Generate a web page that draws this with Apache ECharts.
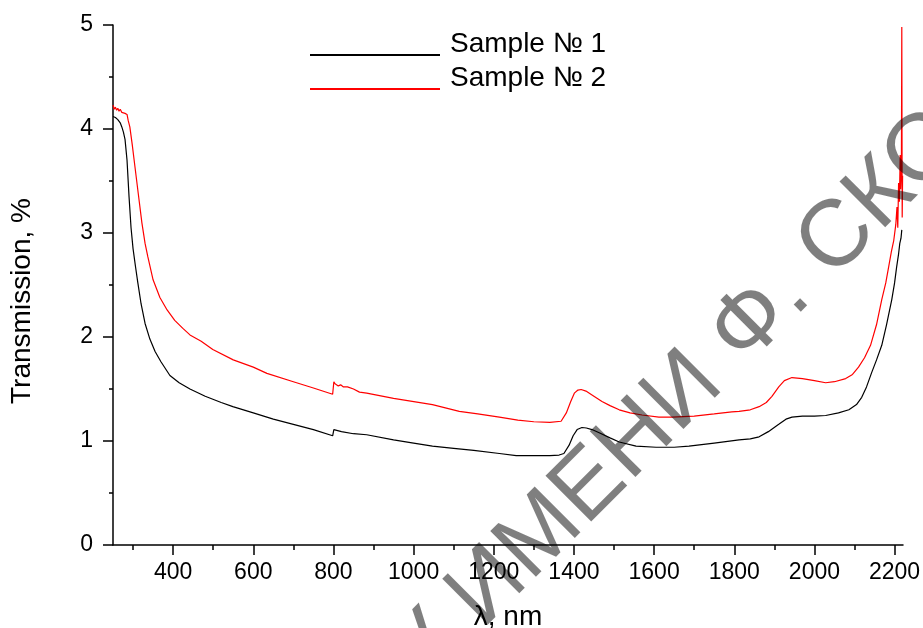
<!DOCTYPE html>
<html>
<head>
<meta charset="utf-8">
<script src="https://cdn.jsdelivr.net/npm/echarts@6/dist/echarts.min.js"></script>
<style>
html,body{margin:0;padding:0;background:#fff;}
#chart{width:923px;height:628px;}
</style>
</head>
<body>
<div id="chart"></div>
<script>
// Sample № 1 (black)
const wl1 = [250,256,262,268,272,276,280,285,290,295,300,306,312,320,330,342,355,370,392,415,442,480,520,549,600,650,700,750,798,799,801,805,820,850,883,950,1000,1047,1100,1150,1214,1256,1300,1340,1363,1375,1388,1398,1408,1420,1431,1445,1463,1490,1513,1555,1605,1650,1687,1750,1812,1840,1862,1885,1911,1929,1944,1970,2000,2028,2060,2086,2105,2118,2130,2143,2155,2168,2180,2193,2200,2205,2210,2213,2216,2218];
const tr1 = [4.12,4.11,4.09,4.06,4.02,3.97,3.90,3.70,3.35,3.05,2.85,2.68,2.52,2.32,2.13,1.98,1.86,1.76,1.63,1.56,1.50,1.43,1.37,1.33,1.27,1.21,1.16,1.11,1.05,1.04,1.11,1.10,1.09,1.07,1.06,1.01,0.98,0.95,0.93,0.91,0.88,0.86,0.86,0.86,0.865,0.88,0.96,1.05,1.11,1.13,1.125,1.11,1.08,1.03,0.99,0.95,0.94,0.94,0.95,0.98,1.01,1.02,1.04,1.09,1.16,1.21,1.23,1.24,1.24,1.245,1.27,1.30,1.35,1.42,1.52,1.66,1.78,1.92,2.12,2.36,2.52,2.67,2.80,2.90,2.95,3.03];
// Sample № 2 (red)
const wl2 = [250,253,256,259,262,265,268,272,276,280,285,288,292,298,305,313,322,330,337,350,367,385,404,425,442,470,499,550,600,634,700,750,798,799,801,804,808,812,818,825,835,850,865,883,950,1047,1114,1160,1214,1260,1300,1340,1368,1381,1392,1401,1410,1418,1430,1446,1470,1490,1513,1540,1570,1612,1645,1700,1750,1794,1812,1840,1862,1880,1894,1911,1925,1944,1970,2000,2028,2050,2078,2095,2110,2125,2140,2155,2168,2178,2185,2192,2198,2203,2206,2208,2210,2212,2214,2215,2217,2218,2219,2220];
const tr2 = [4.23,4.19,4.21,4.18,4.20,4.17,4.19,4.16,4.17,4.15,4.14,4.08,4.02,3.85,3.63,3.38,3.10,2.90,2.77,2.55,2.38,2.26,2.16,2.08,2.02,1.96,1.88,1.78,1.71,1.65,1.57,1.51,1.45,1.44,1.57,1.55,1.56,1.53,1.54,1.52,1.52,1.50,1.47,1.46,1.41,1.35,1.285,1.26,1.23,1.20,1.185,1.18,1.19,1.27,1.38,1.46,1.49,1.495,1.48,1.44,1.38,1.34,1.30,1.27,1.25,1.23,1.23,1.24,1.26,1.28,1.285,1.30,1.33,1.37,1.43,1.52,1.58,1.61,1.60,1.58,1.56,1.57,1.60,1.64,1.71,1.80,1.92,2.12,2.36,2.52,2.67,2.82,2.93,3.08,3.25,3.05,3.48,3.30,3.75,3.42,3.62,4.98,3.15,3.55];
const seriesNames = ['Sample № 1', 'Sample № 2'];
const xMajorTicks = [400,600,800,1000,1200,1400,1600,1800,2000,2200];
const xMinorTicks = [300,500,700,900,1100,1300,1500,1700,1900,2100];
const xMin = 250, xMax = 2221;
const yMin = 0, yMax = 5;

const FONT = "'Liberation Sans', Arial, sans-serif";
const zip = (a, b) => a.map((v, i) => [v, b[i]]);

const chart = echarts.init(document.getElementById('chart'), null, {renderer: 'canvas'});
chart.setOption({
  animation: false,
  backgroundColor: '#fff',
  grid: {left: 113, right: 20, top: 25, bottom: 83, containLabel: false, outerBoundsMode: 'none'},
  legend: {
    orient: 'vertical', left: 310, top: 30, padding: 0, itemGap: 6,
    itemWidth: 130, itemHeight: 24, symbolKeepAspect: false,
    icon: 'path://M0,0L0.01,0L0,0.01Z M0,22L130,22L130,24L0,24Z',
    itemStyle: {borderWidth: 0},
    data: seriesNames,
    textStyle: {fontSize: 28, fontFamily: FONT, color: '#000', padding: [0, 0, 0, 5]}
  },
  xAxis: [{
    type: 'value', min: xMin, max: xMax,
    name: 'λ, nm', nameLocation: 'middle', nameGap: 58,
    nameTextStyle: {fontSize: 28, fontFamily: FONT, color: '#000'},
    axisLine: {lineStyle: {color: '#000', width: 1.5}},
    axisTick: {length: 10, lineStyle: {color: '#000', width: 1.5}, customValues: xMajorTicks},
    axisLabel: {fontSize: 23, fontFamily: FONT, color: '#000', margin: 16, customValues: xMajorTicks, formatter: v => String(v)},
    splitLine: {show: false}
  }, {
    type: 'value', min: xMin, max: xMax, position: 'bottom',
    axisLine: {show: false},
    axisTick: {length: 5, lineStyle: {color: '#000', width: 1.5}, customValues: xMinorTicks},
    axisLabel: {show: false, customValues: xMinorTicks},
    splitLine: {show: false}
  }],
  yAxis: {
    type: 'value', min: yMin, max: yMax, interval: 1,
    axisLine: {show: true, lineStyle: {color: '#000', width: 1.5}},
    axisTick: {show: true, length: 10, lineStyle: {color: '#000', width: 1.5}},
    minorTick: {show: true, splitNumber: 2, length: 4, lineStyle: {color: '#000', width: 1.5}},
    axisLabel: {fontSize: 23, fontFamily: FONT, color: '#000', margin: 20},
    splitLine: {show: false}
  },
  series: [{
    name: seriesNames[0], type: 'line', xAxisIndex: 0, showSymbol: false, symbol: 'none',
    lineStyle: {color: '#000', width: 1.2}, itemStyle: {color: '#000'},
    data: zip(wl1, tr1), z: 3
  }, {
    name: seriesNames[1], type: 'line', xAxisIndex: 0, showSymbol: false, symbol: 'none',
    lineStyle: {color: '#ff0000', width: 1.2}, itemStyle: {color: '#ff0000'},
    data: zip(wl2, tr2), z: 2
  }],
  graphic: [{
    type: 'text', x: 22, y: 301, rotation: Math.PI / 2,
    style: {text: 'Transmission, %', fontSize: 28, fontFamily: FONT, fill: '#000', align: 'center', verticalAlign: 'middle'}
  }, {
    type: 'text', x: 726, y: 350, rotation: Math.PI / 4, z: 100,
    style: {text: 'Ф. СКОРИНЫ', fontSize: 94, fontFamily: FONT, fill: 'rgba(0,0,0,0.5)', align: 'left', verticalAlign: 'middle'}
  }, {
    type: 'text', x: 726, y: 350, rotation: Math.PI / 4, z: 100,
    style: {text: 'РЕПОЗИТОРИЙ ГГУ ИМЕНИ ', fontSize: 94, fontFamily: FONT, fill: 'rgba(0,0,0,0.5)', align: 'right', verticalAlign: 'middle'}
  }]
});
</script>
</body>
</html>
